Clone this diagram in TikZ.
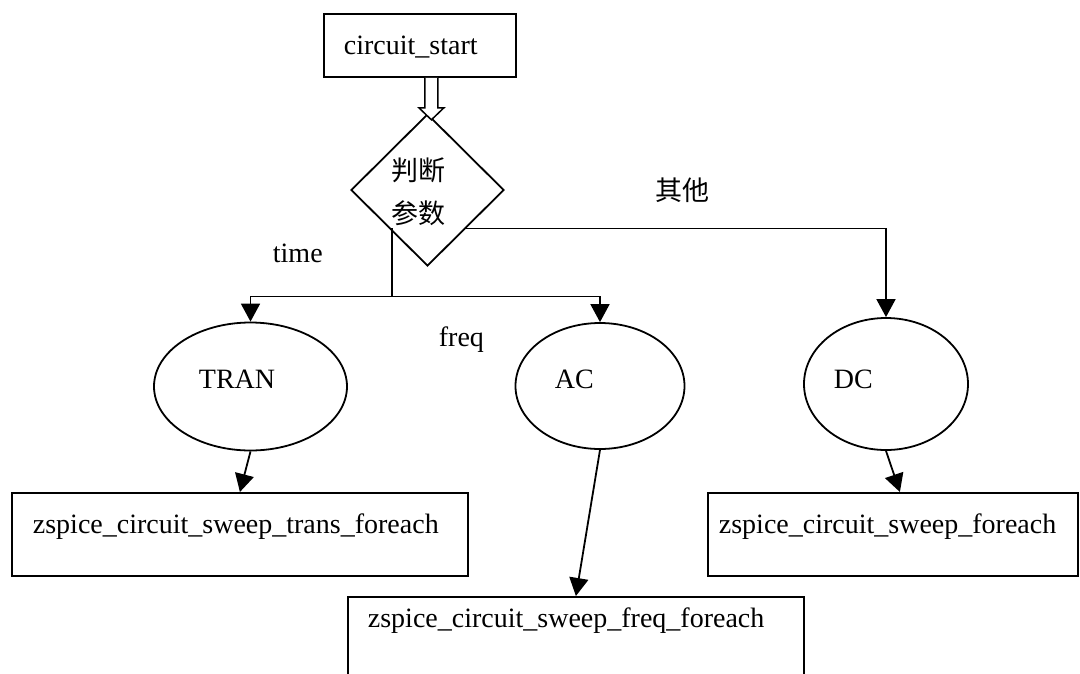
\documentclass[tikz,border=0pt]{standalone}
\usepackage{fontspec}
\setmainfont{Liberation Serif}
\newfontfamily\cjk{Noto Sans CJK SC}
\usetikzlibrary{shapes.geometric,arrows.meta,calc}
\begin{document}
\begin{tikzpicture}[x=1pt,y=-1pt,line width=1.8pt,
  box/.style={draw,rectangle,inner sep=0pt,anchor=north west},
  oval/.style={draw,ellipse,inner sep=0pt},
  txt/.style={anchor=base west,inner sep=0pt,font=\fontsize{28}{34}\selectfont},
  cjktxt/.style={inner sep=0pt,font=\cjk\fontsize{27}{32}\selectfont},
  arr/.style={-{Triangle[length=18pt,width=19pt]}}]
\clip (0,0) rectangle (1080,673);
\fill[white] (0,0) rectangle (1080,673);

% start block
\node[box,minimum width=192pt,minimum height=63pt] (start) at (323,13) {};
\node[txt] (starttxt) at (343,54) {circuit\_start};

% decision
\node[draw,diamond,minimum width=153pt,minimum height=152pt,inner sep=0pt] (dia) at (427.5,190) {};
\node[cjktxt] (d1) at (418,170) {判断};
\node[cjktxt] (d2) at (418,213) {参数};

% hollow block arrow from start to decision
\coordinate (ha) at ($(start.south)+(11.5,0)$);
\draw[line width=1.5pt,fill=white]
  ($(ha)+(-6.5,0)$) -- ($(ha)+(-6.5,30)$) -- ($(ha)+(-12.5,30)$) -- ($(ha)+(0,42)$)
  -- ($(ha)+(12.5,30)$) -- ($(ha)+(6.5,30)$) -- ($(ha)+(6.5,0)$);

% analysis types
\node[oval,minimum width=193pt,minimum height=128pt] (tran) at (250.5,386.5) {};
\node[txt] (trantxt) at (198,388) {TRAN};
\node[oval,minimum width=169pt,minimum height=126pt] (ac) at (600,386) {};
\node[txt] (actxt) at (554,388) {AC};
\node[oval,minimum width=164pt,minimum height=132pt] (dc) at (886,384) {};
\node[txt] (dctxt) at (833,388) {DC};

% sweep blocks
\node[box,minimum width=456pt,minimum height=83pt] (tbox) at (11,492) {};
\node[txt] (tboxtxt) at (32,533) {zspice\_circuit\_sweep\_trans\_foreach};
\node[box,minimum width=456pt,minimum height=110pt] (fbox) at (347,596) {};
\node[txt] (fboxtxt) at (367,627) {zspice\_circuit\_sweep\_freq\_foreach};
\node[box,minimum width=370pt,minimum height=83pt] (dbox) at (707,492) {};
\node[txt] (dboxtxt) at (718,533) {zspice\_circuit\_sweep\_foreach};

% branch labels
\node[txt] (ltime) at (272,262) {time};
\node[txt] (lfreq) at (438,346) {freq};
\node[cjktxt] (lother) at (682,190) {其他};

% connectors
\coordinate (split) at ($(dia.south west)+(3,68)$);
\draw ($(dia.south west)+(3,0)$) -- (split);
\draw[arr] (split) -| (tran.north);
\draw[arr] (split) -| (ac.north);
\draw[arr] (dia.south east) -| (dc.north);
\draw[arr] (tran.south) -- (tbox.north);
\draw[arr] (ac.south) -- (fbox.north);
\draw[arr] (dc.south) -- ($(dbox.north)+(7,0)$);
\end{tikzpicture}
\end{document}
